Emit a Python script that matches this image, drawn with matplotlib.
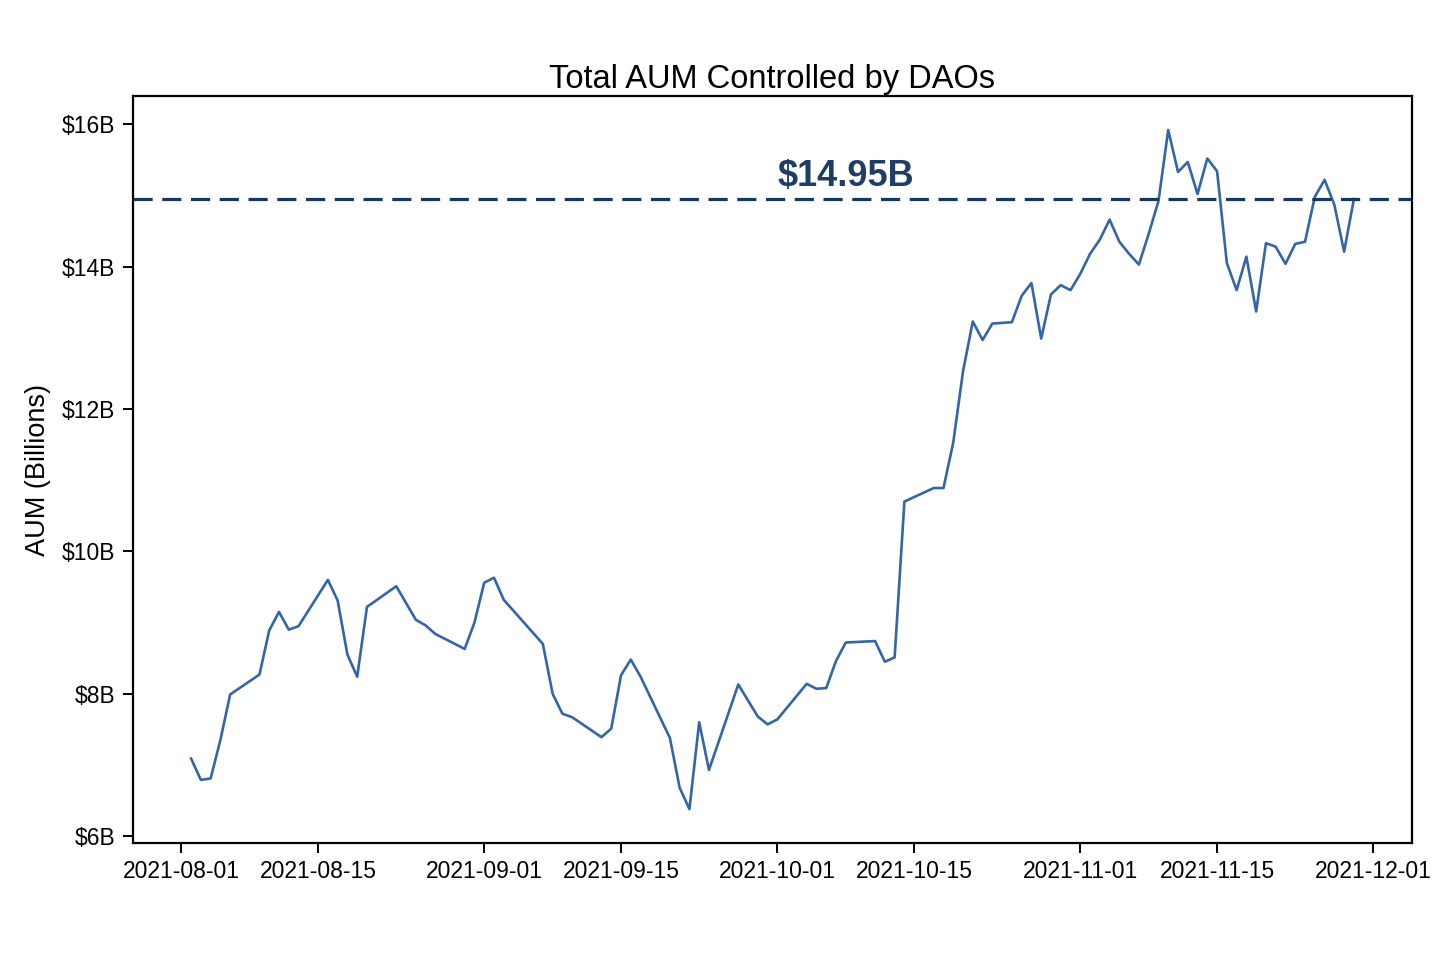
import numpy as np
import pandas as pd
import matplotlib
matplotlib.use('Agg')
import matplotlib.pyplot as plt
import matplotlib.dates as mdates


# данные: дата и AUM в млрд долларов
dates = [
    '2021-08-02', '2021-08-03', '2021-08-04', '2021-08-05', '2021-08-06',
    '2021-08-09', '2021-08-10', '2021-08-11', '2021-08-12', '2021-08-13',
    '2021-08-16', '2021-08-17', '2021-08-18', '2021-08-19', '2021-08-20',
    '2021-08-23', '2021-08-25', '2021-08-26', '2021-08-27',
    '2021-08-30', '2021-08-31', '2021-09-01', '2021-09-02', '2021-09-03',
    '2021-09-07', '2021-09-08', '2021-09-09', '2021-09-10',
    '2021-09-13', '2021-09-14', '2021-09-15', '2021-09-16', '2021-09-17',
    '2021-09-20', '2021-09-21', '2021-09-22', '2021-09-23', '2021-09-24',
    '2021-09-27', '2021-09-29', '2021-09-30', '2021-10-01',
    '2021-10-04', '2021-10-05', '2021-10-06', '2021-10-07', '2021-10-08',
    '2021-10-11', '2021-10-12', '2021-10-13', '2021-10-14',
    '2021-10-17', '2021-10-18', '2021-10-19', '2021-10-20', '2021-10-21',
    '2021-10-22', '2021-10-23', '2021-10-25', '2021-10-26', '2021-10-27',
    '2021-10-28', '2021-10-29', '2021-10-30', '2021-10-31', '2021-11-01',
    '2021-11-02', '2021-11-03', '2021-11-04', '2021-11-05', '2021-11-06',
    '2021-11-07', '2021-11-08', '2021-11-09', '2021-11-10', '2021-11-11',
    '2021-11-12', '2021-11-13', '2021-11-14', '2021-11-15', '2021-11-16',
    '2021-11-17', '2021-11-18', '2021-11-19', '2021-11-20', '2021-11-21',
    '2021-11-22', '2021-11-23', '2021-11-24', '2021-11-25', '2021-11-26',
    '2021-11-27', '2021-11-28', '2021-11-29',
]
aum = [
    7.09, 6.79, 6.81, 7.35, 7.99,
    8.27, 8.89, 9.15, 8.90, 8.95,
    9.60, 9.31, 8.55, 8.24, 9.22,
    9.51, 9.04, 8.96, 8.84,
    8.63, 9.00, 9.56, 9.63, 9.32,
    8.70, 8.00, 7.72, 7.67,
    7.39, 7.51, 8.26, 8.48, 8.24,
    7.38, 6.68, 6.38, 7.60, 6.93,
    8.13, 7.68, 7.57, 7.64,
    8.14, 8.07, 8.08, 8.46, 8.72,
    8.74, 8.45, 8.51, 10.70,
    10.89, 10.89, 11.53, 12.53, 13.23,
    12.97, 13.20, 13.22, 13.59, 13.77,
    12.99, 13.61, 13.74, 13.67, 13.90,
    14.18, 14.38, 14.66, 14.35, 14.18,
    14.03, 14.46, 14.92, 15.92, 15.33,
    15.47, 15.02, 15.52, 15.34, 14.05,
    13.67, 14.14, 13.37, 14.33, 14.28,
    14.04, 14.32, 14.35, 14.98, 15.22,
    14.87, 14.21, 14.95,
]
current_aum = 14.95
yticks = [6, 8, 10, 12, 14, 16]


def main():
    plt.rcParams['font.family'] = ['Liberation Sans', 'DejaVu Sans']

    x = pd.to_datetime(dates)
    y = np.array(aum)

    fig = plt.figure(figsize=(14.56, 9.71), dpi=100)
    ax = fig.add_axes([0.0913, 0.1318, 0.8785, 0.7693])

    ax.plot(x, y, color='#3465a8', linewidth=1.9)
    ax.axhline(current_aum, color='#17375e', linewidth=2.3,
               linestyle=(0, (6, 3)))
    ax.text(0.557, current_aum + 0.07, '${:.2f}B'.format(current_aum),
            transform=ax.get_yaxis_transform(), ha='center', va='bottom',
            fontsize=26, fontweight='bold', color='#1f3d66')

    ax.set_title('Total AUM Controlled by DAOs', fontsize=23.5)
    ax.set_ylabel('AUM (Billions)', fontsize=19.5, labelpad=8)

    ax.set_yticks(yticks)
    ax.set_yticklabels(['${}B'.format(v) for v in yticks])
    ax.xaxis.set_major_locator(mdates.DayLocator(bymonthday=[1, 15]))
    ax.xaxis.set_major_formatter(mdates.DateFormatter('%Y-%m-%d'))

    ax.tick_params(axis='both', labelsize=16.5, length=7.5, width=1.4,
                   pad=5)
    for s in ax.spines.values():
        s.set_linewidth(1.6)

    fig.savefig('out.png', dpi=100)


if __name__ == '__main__':
    main()
